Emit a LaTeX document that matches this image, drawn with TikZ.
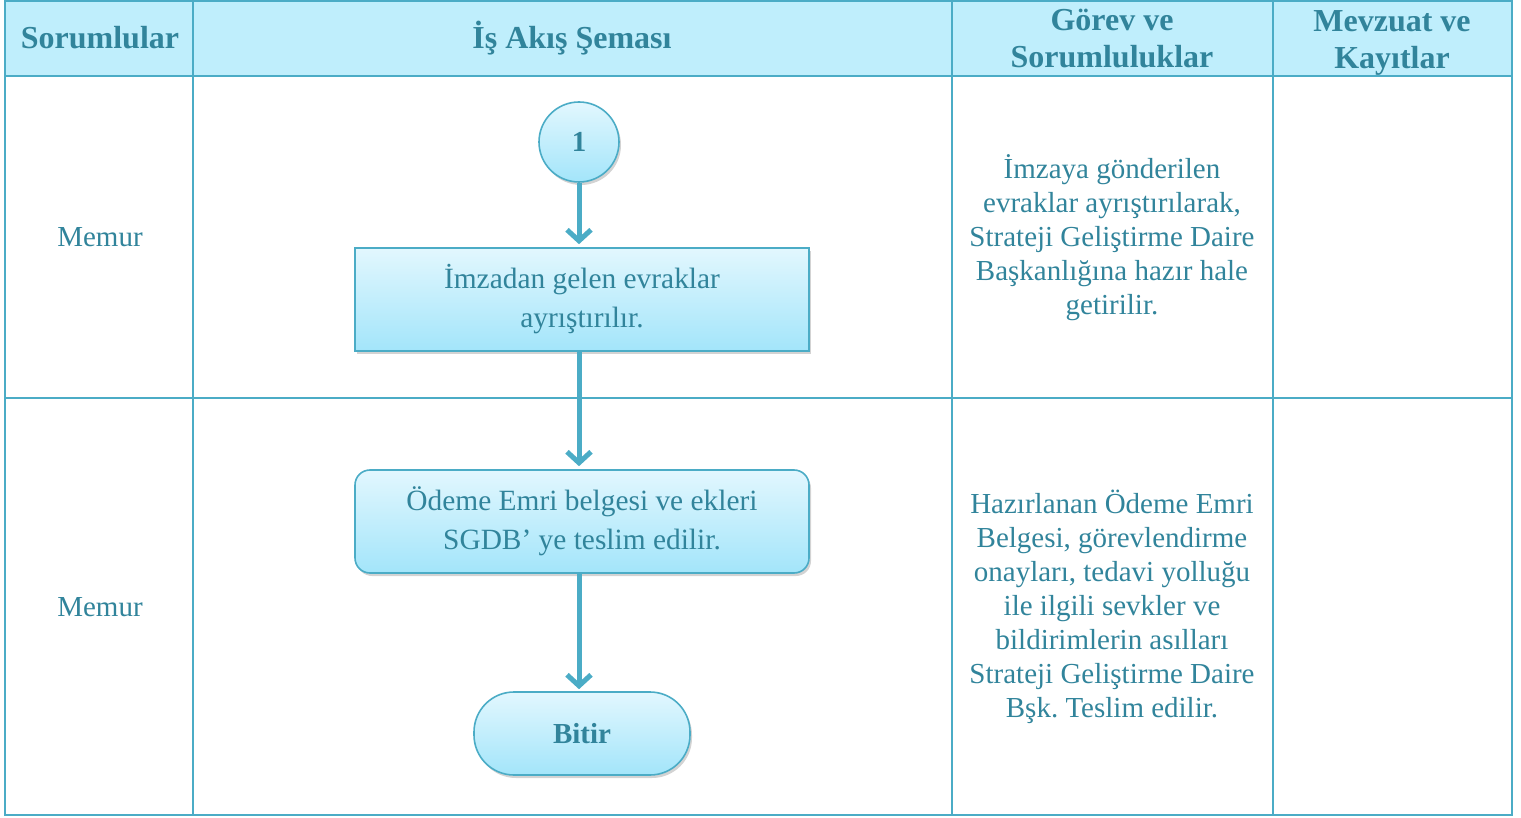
\documentclass[tikz,border=0pt]{standalone}
\usepackage{fontspec}
\setmainfont{Liberation Serif}
\frenchspacing
\usetikzlibrary{arrows.meta,shadows}

\definecolor{cizgi}{HTML}{4BACC6}
\definecolor{yazi}{HTML}{31849B}
\definecolor{baslik}{HTML}{BFEEFC}
\definecolor{acik}{HTML}{E2F7FE}
\definecolor{koyu}{HTML}{A3E5FA}

\begin{document}
\begin{tikzpicture}[
    x = 0.5pt, y = -0.5pt,
    every node/.style = {text = yazi, align = center,
        font = \fontsize{14.5}{17}\selectfont},
    baslikyazi/.style = {font = \fontsize{16}{18.5}\selectfont\bfseries},
    akis/.style = {draw = cizgi, line width = 0.8pt,
        top color = acik, bottom color = koyu,
        drop shadow = {opacity = 0.35, shadow xshift = 1pt, shadow yshift = -1.5pt}},
    kutu/.style = {akis, minimum width = 227pt, minimum height = 51.5pt,
        font = \fontsize{14.7}{19.5}\selectfont},
    daire/.style = {akis, circle, minimum size = 40pt,
        font = \fontsize{14.5}{17}\selectfont\bfseries},
    bitis/.style = {akis, rounded corners = 20pt, minimum width = 108pt,
        minimum height = 41.5pt, font = \fontsize{14.5}{17}\selectfont\bfseries},
    ok/.style = {draw = cizgi, line width = 2.5pt,
        -{Straight Barb[length = 5.5pt, width = 12pt]}}
]
\useasboundingbox (0,0) rectangle (1521,818);

% tablo
\fill[baslik] (5,1) rectangle (1512,76);
\draw[cizgi, line width = 1pt] (5,1) rectangle (1512,815);
\draw[cizgi, line width = 1pt] (5,76) -- (1512,76);
\draw[cizgi, line width = 1pt] (5,398) -- (1512,398);
\foreach \x in {193, 952, 1273}
    \draw[cizgi, line width = 1pt] (\x,1) -- (\x,815);

% basliklar
\node[baslikyazi] (sorumlular) at (100,38) {Sorumlular};
\node[baslikyazi] (sema) at (572,38) {İş Akış Şeması};
\node[baslikyazi] (gorev) at (1112,38.5) {Görev ve\\Sorumluluklar};
\node[baslikyazi] (mevzuat) at (1392,42.5) {Mevzuat ve\\Kayıtlar};

\node (memur1) at (100,237) {Memur};
\node (memur2) at (100,607) {Memur};

% akis
\node[daire] (bir) at (579,142) {1};
\node[kutu] (ayristir) at (582,299.5) {İmzadan gelen evraklar\\ayrıştırılır.};
\node[kutu, rounded corners = 7.5pt] (teslim) at (582,521.5)
    {Ödeme Emri belgesi ve ekleri\\SGDB’ ye teslim edilir.};
\node[bitis] (bitir) at (582,733.5) {Bitir};

\draw[ok, shorten > = 1.5pt] (bir.south) -- (bir.south |- ayristir.north);
\draw[ok, shorten > = 1.5pt] (ayristir.south -| bir.south) -- (bir.south |- teslim.north);
\draw[ok, shorten > = 1pt] (teslim.south -| bir.south) -- (bir.south |- bitir.north);

% aciklamalar
\node (gorev1) at (1112,238) {İmzaya gönderilen\\evraklar ayrıştırılarak,\\Strateji Geliştirme Daire\\Başkanlığına hazır hale\\getirilir.};
\node (gorev2) at (1112,607) {Hazırlanan Ödeme Emri\\Belgesi, görevlendirme\\onayları, tedavi yolluğu\\ile ilgili sevkler ve\\bildirimlerin asılları\\Strateji Geliştirme Daire\\Bşk. Teslim edilir.};
\end{tikzpicture}
\end{document}
